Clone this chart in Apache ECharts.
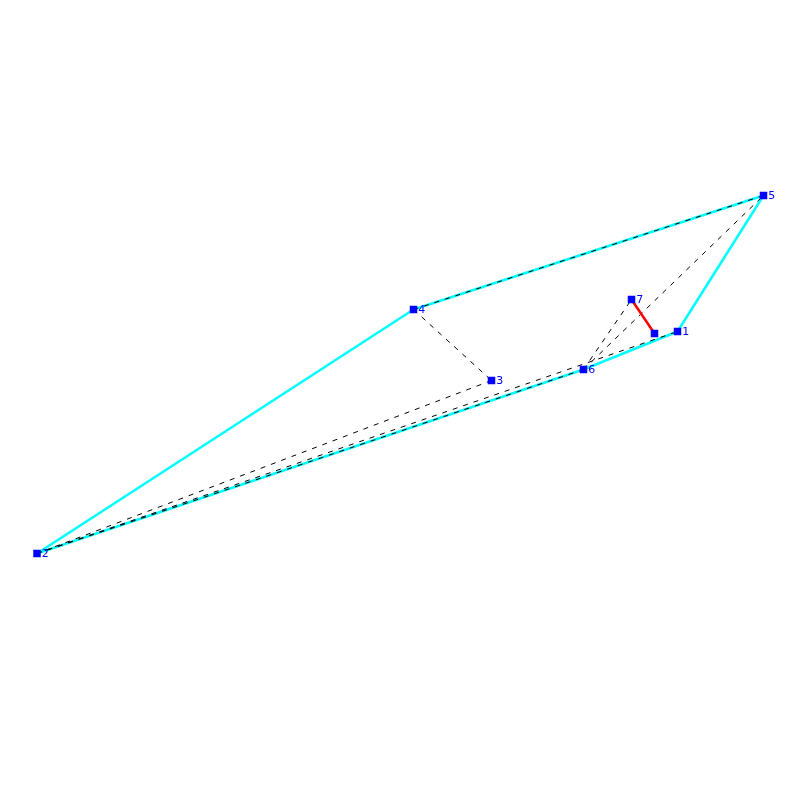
<!DOCTYPE html>
<html>
<head>
<meta charset="utf-8">
<style>html,body{margin:0;padding:0;background:#fff}#c{width:800px;height:800px}</style>
<script src="https://cdn.jsdelivr.net/npm/echarts@6/dist/echarts.min.js"></script>
</head>
<body>
<div id="c"></div>
<script>
const nodeNames = ['1','2','3','4','5','6','7',''];
const nodeX = [677.5,37,491.5,413.5,763.5,583.5,631.5,654.5];
const nodeY = [468.5,246.5,419.5,490.5,604.5,430.5,500.5,466.5];
const hullEdges = [[0,4],[4,3],[3,1],[1,5],[5,0]];
const dashedEdges = [[3,4],[3,2],[2,1],[1,0],[1,5],[5,6],[5,4]];
const redEdges = [[6,7]];

const pt = i => [nodeX[i], nodeY[i]];
const edgeData = edges => edges.map(e => ({coords:[pt(e[0]), pt(e[1])]}));
const chart = echarts.init(document.getElementById('c'), null, {renderer:'canvas'});
const edgeSeries = (edges, style, z) => ({
  type:'lines', coordinateSystem:'cartesian2d', polyline:false, silent:true, z,
  lineStyle:Object.assign({opacity:1, curveness:0}, style),
  data:edgeData(edges), animation:false
});
chart.setOption({
  animation:false,
  backgroundColor:'#ffffff',
  grid:{left:0,right:0,top:0,bottom:0},
  xAxis:{type:'value',min:0,max:800,show:false},
  yAxis:{type:'value',min:0,max:800,show:false},
  series:[
    edgeSeries(hullEdges,{color:'#00ffff',width:2.5},2),
    edgeSeries(dashedEdges,{color:'#000000',width:1,type:[5,6]},3),
    edgeSeries(redEdges,{color:'#ff0000',width:2.5},4),
    {
      type:'scatter', z:5, symbol:'rect', symbolSize:7.5, silent:true,
      itemStyle:{color:'#0000ff',opacity:1},
      data:nodeNames.map((n,i)=>({value:pt(i),name:n})),
      label:{show:true,position:'right',distance:1,offset:[0,1],formatter:p=>p.name,
        color:'#0000ff',fontFamily:'DejaVu Sans',fontSize:11}
    }
  ]
});
</script>
</body>
</html>
